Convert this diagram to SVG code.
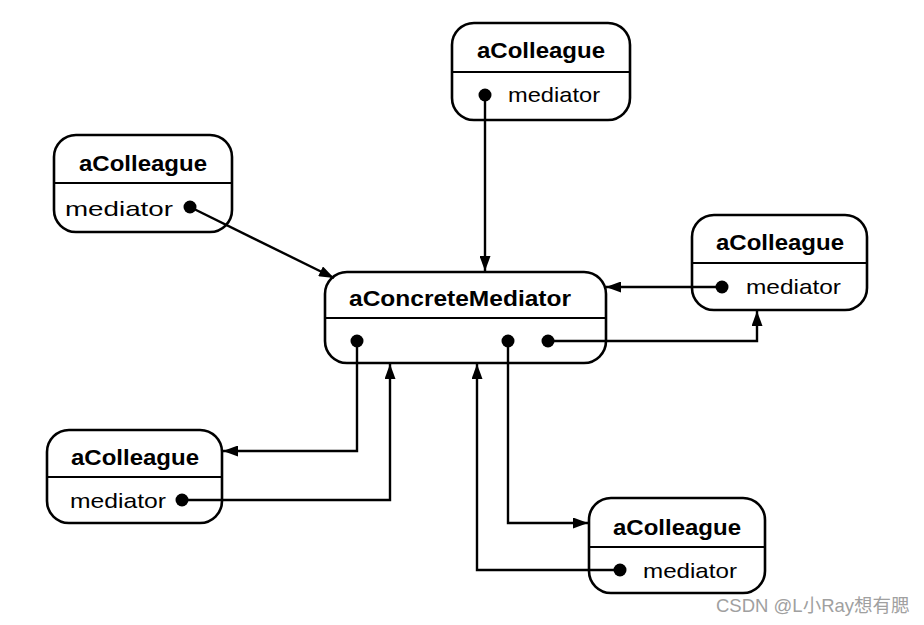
<svg xmlns="http://www.w3.org/2000/svg" width="924" height="625" viewBox="0 0 924 625">
<style>
.box{fill:#fff;stroke:#000;stroke-width:2.6}
.div{stroke:#000;stroke-width:2.2}
.t{font-family:"Liberation Sans",Arial,sans-serif;font-weight:bold;font-size:22px;fill:#000;text-anchor:middle}
.m{font-family:"Liberation Sans",Arial,sans-serif;font-size:21px;fill:#000}
.c{fill:none;stroke:#000;stroke-width:2.4}
.dot{fill:#000}
</style>
<defs>
<marker id="ah" viewBox="0 0 15 11" refX="15" refY="5.5" markerWidth="15" markerHeight="11" markerUnits="userSpaceOnUse" orient="auto">
<path d="M0,0 L15,5.5 L0,11 Z" fill="#000"/>
</marker>
</defs>
<g id="mediator">
<rect class="box" x="325" y="272" width="281" height="91" rx="22"/>
<line class="div" x1="325" y1="318" x2="606" y2="318"/>
<text class="t" x="460" y="306" textLength="222" lengthAdjust="spacingAndGlyphs">aConcreteMediator</text>
</g>
<g id="colleague-top">
<rect class="box" x="452" y="23" width="178" height="97" rx="22"/>
<line class="div" x1="452" y1="72" x2="630" y2="72"/>
<text class="t" x="541" y="58" textLength="128" lengthAdjust="spacingAndGlyphs">aColleague</text>
<text class="m" x="508" y="102" textLength="92" lengthAdjust="spacingAndGlyphs">mediator</text>
</g>
<g id="colleague-left">
<rect class="box" x="54" y="135" width="178" height="97" rx="22"/>
<line class="div" x1="54" y1="183" x2="232" y2="183"/>
<text class="t" x="143" y="171" textLength="128" lengthAdjust="spacingAndGlyphs">aColleague</text>
<text class="m" x="65" y="216" textLength="108" lengthAdjust="spacingAndGlyphs">mediator</text>
</g>
<g id="colleague-right">
<rect class="box" x="692" y="215" width="175" height="95" rx="22"/>
<line class="div" x1="692" y1="263" x2="867" y2="263"/>
<text class="t" x="780" y="250" textLength="128" lengthAdjust="spacingAndGlyphs">aColleague</text>
<text class="m" x="746" y="294" textLength="95" lengthAdjust="spacingAndGlyphs">mediator</text>
</g>
<g id="colleague-bottom-left">
<rect class="box" x="47" y="430" width="175" height="93" rx="22"/>
<line class="div" x1="47" y1="477" x2="222" y2="477"/>
<text class="t" x="135" y="465" textLength="128" lengthAdjust="spacingAndGlyphs">aColleague</text>
<text class="m" x="70" y="508" textLength="96" lengthAdjust="spacingAndGlyphs">mediator</text>
</g>
<g id="colleague-bottom-right">
<rect class="box" x="589" y="498" width="176" height="95" rx="22"/>
<line class="div" x1="589" y1="547" x2="765" y2="547"/>
<text class="t" x="677" y="535" textLength="128" lengthAdjust="spacingAndGlyphs">aColleague</text>
<text class="m" x="643" y="578" textLength="94" lengthAdjust="spacingAndGlyphs">mediator</text>
</g>
<g id="connectors">
<path class="c" d="M485,95 V271" marker-end="url(#ah)"/>
<path class="c" d="M190,207 L334,278" marker-end="url(#ah)"/>
<path class="c" d="M722,287 H606" marker-end="url(#ah)"/>
<path class="c" d="M548,341 H757 V311" marker-end="url(#ah)"/>
<path class="c" d="M357,341 V451 H223" marker-end="url(#ah)"/>
<path class="c" d="M182,500 H390 V364" marker-end="url(#ah)"/>
<path class="c" d="M508,341 V523 H588" marker-end="url(#ah)"/>
<path class="c" d="M620,570 H477 V364" marker-end="url(#ah)"/>
<circle class="dot" cx="485" cy="95" r="6.5"/>
<circle class="dot" cx="190" cy="207" r="6.5"/>
<circle class="dot" cx="722" cy="287" r="6.5"/>
<circle class="dot" cx="182" cy="500" r="6.5"/>
<circle class="dot" cx="620" cy="570" r="6.5"/>
<circle class="dot" cx="357" cy="341" r="6.5"/>
<circle class="dot" cx="508" cy="341" r="6.5"/>
<circle class="dot" cx="548" cy="341" r="6.5"/>
</g>
<text x="716" y="612" font-family="'Liberation Sans','Noto Sans CJK SC',sans-serif" font-size="18.5" fill="#a0a0a0">CSDN @L小Ray想有腮</text>
</svg>
